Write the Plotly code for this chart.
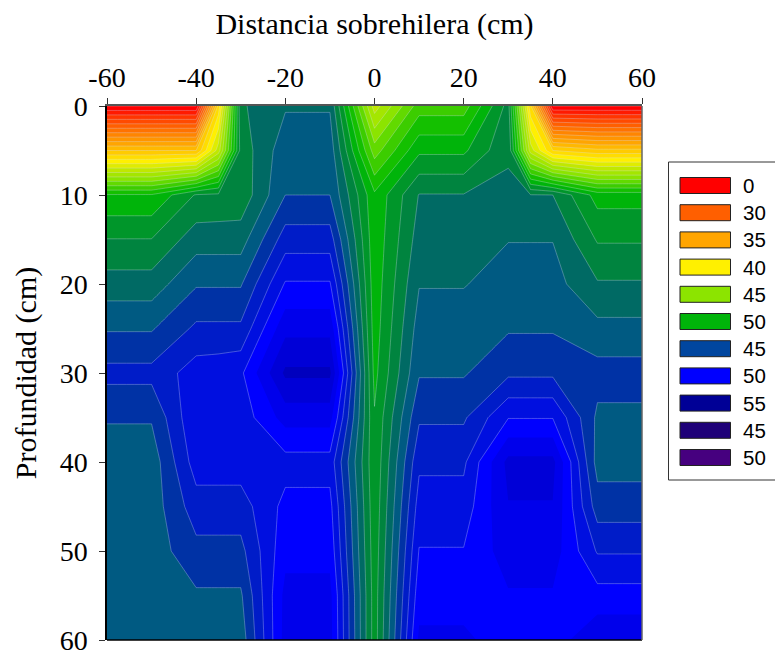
import plotly.graph_objects as go

# grid (contour level index per depth)
depths = [0, 5, 10, 15, 20, 25, 30, 35, 40, 45, 50, 55, 60]
positions = [-60, -50, -40, -35, -30, -20, -10, 0, 10, 20, 30, 35, 40, 50, 60]

col_m60 = [0, 10, 20.1, 22.03, 23.45, 24.9, 26.31, 25.1, 24.4, 24.45, 24.45, 24.45, 24.45]
col_m50 = [0, 10, 20.1, 22.03, 23.45, 24.9, 26.31, 25.1, 24.4, 24.45, 24.45, 24.45, 24.45]
col_m40 = [0, 10, 22.1, 23.54, 24.9, 26.2, 27.5, 27.9, 27.5, 26.54, 25.7, 24.85, 24.4]
col_m35 = [11.4, 14.5, 22.2, 23.54, 24.9, 26.2, 27.6, 27.7, 27.5, 26.54, 25.7, 24.85, 24.4]
col_m30 = [22.85, 22.4, 22.3, 23.54, 24.9, 26.2, 27.8, 27.4, 27.5, 26.54, 25.7, 24.85, 24.4]
col_m20 = [23.9, 24.6, 25.0, 26.5, 28.1, 29.7, 31.2, 29.4, 27.6, 28.3, 28.7, 29.3, 29.4]
col_m10 = [23.9, 24.6, 25.0, 26.5, 28.1, 29.7, 31.2, 29.4, 27.6, 28.3, 28.7, 29.3, 29.4]
col_0 = [14.5, 17.5, 20.2, 20.3, 20.4, 20.5, 20.7, 21.1, 21.2, 21.3, 21.4, 21.5, 21.5]
col_p10 = [18.5, 20.8, 23.05, 23.45, 23.95, 24.45, 24.9, 25.85, 26.8, 27.45, 28.05, 28.6, 29.2]
col_p20 = [18.5, 20.8, 23.05, 23.45, 23.95, 24.45, 24.9, 25.85, 26.8, 27.45, 28.05, 28.6, 29.2]
col_p30 = [22.4, 22.9, 23.15, 23.97, 24.4, 24.9, 25.8, 27.95, 30.3, 29.95, 29.5, 28.9, 28.5]
col_p35 = [11.2, 14.5, 23.05, 23.97, 24.4, 24.9, 25.8, 27.95, 30.3, 29.95, 29.5, 28.9, 28.5]
col_p40 = [0, 11, 23, 23.97, 24.4, 24.9, 25.8, 27.95, 30.3, 29.95, 29.5, 28.9, 28.5]
col_p50 = [0, 10.3, 20.6, 21.9, 23.1, 24.3, 25.4, 24.8, 24.6, 25.5, 26.9, 28.4, 29.8]
col_p60 = [0, 10.3, 20.6, 21.9, 23.1, 24.3, 25.4, 24.8, 24.6, 25.5, 26.9, 28.4, 29.8]

columns = [col_m60, col_m50, col_m40, col_m35, col_m30, col_m20, col_m10, col_0,
           col_p10, col_p20, col_p30, col_p35, col_p40, col_p50, col_p60]
z = [[c[i] for c in columns] for i in range(len(depths))]

band_colors = [
    "#ff0000", "#ff1a00", "#ff3500", "#ff4a00", "#ff5f00", "#ff7200", "#ff8500", "#ff9500",
    "#ffa500", "#ffb800", "#ffcb00", "#ffdd00", "#fff000", "#e0ec00", "#c0e800", "#a4e600",
    "#8ce400", "#62da00", "#3ccd00", "#14c000", "#00b40a", "#00962a", "#00843f", "#006a64",
    "#005a82", "#0032a5", "#001cc8", "#000fe0", "#0000ff", "#0000eb", "#0000d7", "#0000be",
]

legend_labels = ["0", "30", "35", "40", "45", "50", "45", "50", "55", "45", "50"]
legend_colors = ["#ff0000", "#ff5f00", "#ffa500", "#fff000", "#8ce400", "#00b40a",
                 "#00469f", "#0000ff", "#000096", "#1e0078", "#46007f"]

x_ticks = [-60, -40, -20, 0, 20, 40, 60]
x_tick_text = ["-60", "-40", "-20", "0", "20", "40", "60"]
y_ticks = [0, 10, 20, 30, 40, 50, 60]

n_levels = len(band_colors)
nc = n_levels + 1
fill_scale = [[0, band_colors[0]]] + [[(k + 1) / nc, c] for k, c in enumerate(band_colors)] + [[1, band_colors[-1]]]

line_levels = n_levels
line_scale = []
for k in range(line_levels + 1):
    col = "rgba(215,225,245,0.4)" if k <= 28 else "rgba(215,225,245,0)"
    line_scale.append([k / line_levels, col])

fig = go.Figure()
fig.add_trace(go.Contour(
    x=positions, y=depths, z=z, showscale=False, colorscale=fill_scale,
    autocontour=False, contours=dict(start=0, end=n_levels, size=1, coloring="fill"),
    line=dict(width=0, smoothing=0), hoverinfo="skip",
))
fig.add_trace(go.Contour(
    x=positions, y=depths, z=z, showscale=False, colorscale=line_scale,
    autocontour=False, contours=dict(start=0, end=n_levels, size=1, coloring="lines"),
    line=dict(width=0.8, smoothing=0), hoverinfo="skip",
))

L, R, T, B = 107, 642, 106, 640
W, H = 775, 653
px = lambda v: (v - L) / (R - L)
py = lambda v: (B - v) / (B - T)

shapes = [
    dict(type="rect", xref="paper", yref="paper", x0=px(668.5), x1=px(785), y0=py(480), y1=py(162),
         line=dict(color="#333333", width=1), fillcolor="white"),
    dict(type="line", xref="paper", yref="paper", x0=0, x1=1, y0=0, y1=0,
         line=dict(color="black", width=1.5)),
    dict(type="line", xref="paper", yref="paper", x0=1, x1=1, y0=0, y1=1,
         line=dict(color="#666666", width=1.5)),
]
annotations = []
for i, (lab, col) in enumerate(zip(legend_labels, legend_colors)):
    yc = 185.5 + i * 27.2
    shapes.append(dict(type="rect", xref="paper", yref="paper",
                       x0=px(680), x1=px(730.5), y0=py(yc + 8), y1=py(yc - 8),
                       line=dict(color="#222222", width=1), fillcolor=col))
    annotations.append(dict(xref="paper", yref="paper", x=px(741), y=py(yc), text=lab,
                            showarrow=False, xanchor="left", yanchor="middle",
                            font=dict(family="Liberation Sans", size=20.5, color="black")))

serif = "Liberation Serif"
fig.update_layout(
    width=W, height=H, margin=dict(l=L, r=W - R, t=T, b=H - B, autoexpand=False),
    paper_bgcolor="white", plot_bgcolor="white", showlegend=False,
    font=dict(family=serif, size=24, color="black"),
    shapes=shapes, annotations=annotations,
    xaxis=dict(side="top", range=[-60, 60], tickmode="array", tickvals=x_ticks, ticktext=x_tick_text,
               ticks="outside", ticklen=6, tickwidth=1, tickcolor="#333333", automargin=False,
               showline=True, linecolor="#555555", linewidth=1.5, showgrid=False, zeroline=False,
               tickfont=dict(family=serif, size=28), ticklabeloverflow="allow",
               title=dict(text="Distancia sobrehilera (cm)", standoff=19, font=dict(family=serif, size=30))),
    yaxis=dict(range=[60, 0], tickmode="array", tickvals=y_ticks,
               ticks="outside", ticklen=6, tickwidth=1, tickcolor="#333333", automargin=False,
               showline=True, linecolor="black", linewidth=1.5, showgrid=False, zeroline=False,
               ticklabelstandoff=6,
               tickfont=dict(family=serif, size=28), ticklabeloverflow="allow",
               title=dict(text="Profundidad (cm)", standoff=14, font=dict(family=serif, size=30))),
)

fig.write_html("out.html", post_script="document.body.style.margin='0';", config=dict(displayModeBar=False))
